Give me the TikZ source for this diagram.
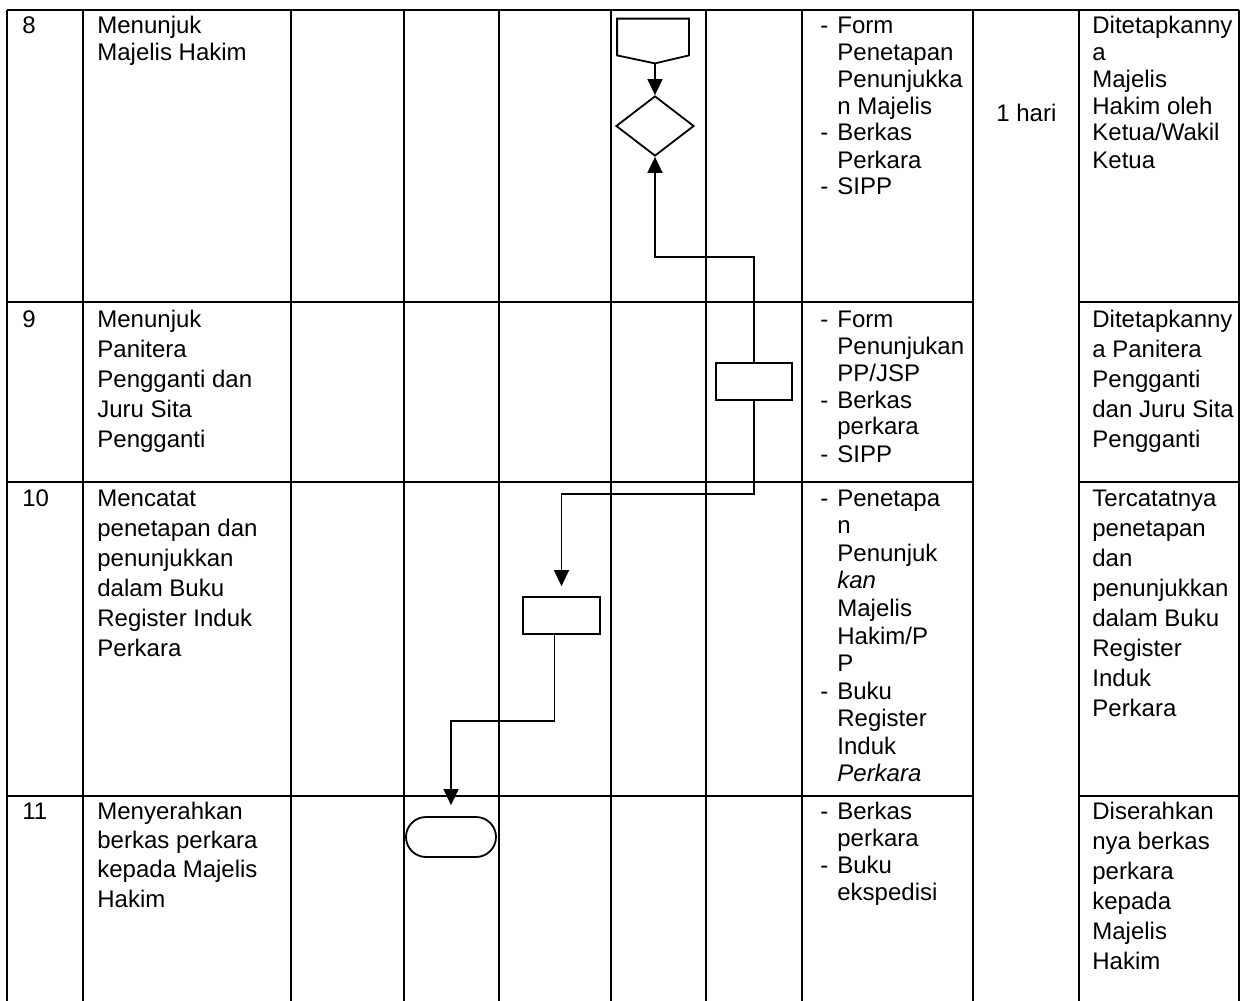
\documentclass[tikz,border=0pt]{standalone}
\usepackage{fontspec}
\setmainfont{Liberation Sans}
\usetikzlibrary{shapes.geometric,arrows.meta,calc}
% bullet-like dash and matching indent for the document lists
\newcommand\itemdash{\makebox[8.5pt][l]{-}}
\newcommand\itemgap{\makebox[8.5pt][l]{}}
% stacked lines whose first baseline is the box baseline
\newcommand\cellstack[1]{\begin{tabular}[t]{@{}l@{}}#1\end{tabular}}
\begin{document}
\begin{tikzpicture}[x=0.5pt,y=-0.5pt,
  grid/.style={line width=0.6pt},
  shp/.style={draw, line width=0.9pt, inner sep=0},
  arr/.style={line width=0.75pt, -{Triangle[width=7.5pt,length=8pt]}},
  tight/.style={anchor=base west, inner sep=0, font=\fontsize{12}{13.5}\selectfont},
  loose/.style={tight, font=\fontsize{12}{15}\selectfont}]
\useasboundingbox (0,0) rectangle (1250,1001);

% table rules
\foreach \x in {7,83,291,404,499,611,706,802,973,1079,1239}
  \draw[grid] (\x,10) -- (\x,1001);
\draw[grid] (7,10) -- (1239,10);
\foreach \y in {302,482,796} {
  \draw[grid] (7,\y) -- (973,\y);
  \draw[grid] (1079,\y) -- (1239,\y);
}

% flow symbols
\node[minimum width=35.5pt, minimum height=18pt, inner sep=0] (off) at (653,37) {};
\coordinate (offtip) at ($(off.south)+(2,8)$);
\draw[shp] (off.north west) -- (off.north east) -- (off.south east) -- (offtip) -- (off.south west) -- cycle;
\node[shp, diamond, minimum width=39pt, minimum height=30pt] (dec) at (655,126) {};
\node[shp, rectangle, minimum width=38pt, minimum height=18.5pt] (box9) at (754,381.5) {};
\node[shp, rectangle, minimum width=38.5pt, minimum height=18.5pt] (box10) at (561.5,615.5) {};
\node[shp, rectangle, rounded corners=10pt, minimum width=45pt, minimum height=20pt] (term) at (451,837) {};

% connectors
\draw[arr] (offtip) -- (dec.north);
\draw[arr] (box9.north) -- ++(0,-105) -| (dec.south);
\draw[arr] (box9.south) -- ++(0,93) -| ([yshift=5pt]box10.north);
\draw[arr] ([xshift=-3.5pt]box10.south) -- ++(0,86) -| ([yshift=5.5pt]term.north);

% step numbers
\node[tight] (n8) at (22,33) {8};
\node[tight] (n9) at (22,327) {9};
\node[tight] (n10) at (22,506) {10};
\node[tight] (n11) at (22,819) {11};

% activities
\node[tight] (a8) at (97,33) {\cellstack{Menunjuk\\Majelis Hakim}};
\node[loose] (a9) at (97,327) {\cellstack{Menunjuk\\Panitera\\Pengganti dan\\Juru Sita\\Pengganti}};
\node[loose] (a10) at (97,506) {\cellstack{Mencatat\\penetapan dan\\penunjukkan\\dalam Buku\\Register Induk\\Perkara}};
\node[loose, font=\fontsize{12}{14.7}\selectfont] (a11) at (97,819) {\cellstack{Menyerahkan\\berkas perkara\\kepada Majelis\\Hakim}};

% documents
\node[tight] (d8) at (820,33) {\cellstack{\itemdash Form\\\itemgap Penetapan\\\itemgap Penunjukka\\\itemgap n Majelis\\\itemdash Berkas\\\itemgap Perkara\\\itemdash SIPP}};
\node[tight] (d9) at (820,327) {\cellstack{\itemdash Form\\\itemgap Penunjukan\\\itemgap PP/JSP\\\itemdash Berkas\\\itemgap perkara\\\itemdash SIPP}};
\node[tight, font=\fontsize{12}{13.8}\selectfont] (d10) at (820,506) {\cellstack{\itemdash Penetapa\\\itemgap n\\\itemgap Penunjuk\\\itemgap \textit{kan}\\\itemgap Majelis\\\itemgap Hakim/P\\\itemgap P\\\itemdash Buku\\\itemgap Register\\\itemgap Induk\\\itemgap \textit{Perkara}}};
\node[tight] (d11) at (820,819) {\cellstack{\itemdash Berkas\\\itemgap perkara\\\itemdash Buku\\\itemgap ekspedisi}};

% duration
\node[tight] (dur) at (996,121) {1 hari};

% outputs
\node[tight] (r8) at (1092,33) {\cellstack{Ditetapkanny\\a\\Majelis\\Hakim oleh\\Ketua/Wakil\\Ketua}};
\node[loose] (r9) at (1092,327) {\cellstack{Ditetapkanny\\a Panitera\\Pengganti\\dan Juru Sita\\Pengganti}};
\node[loose] (r10) at (1092,506) {\cellstack{Tercatatnya\\penetapan\\dan\\penunjukkan\\dalam Buku\\Register\\Induk\\Perkara}};
\node[loose] (r11) at (1092,819) {\cellstack{Diserahkan\\nya berkas\\perkara\\kepada\\Majelis\\Hakim}};
\end{tikzpicture}
\end{document}
